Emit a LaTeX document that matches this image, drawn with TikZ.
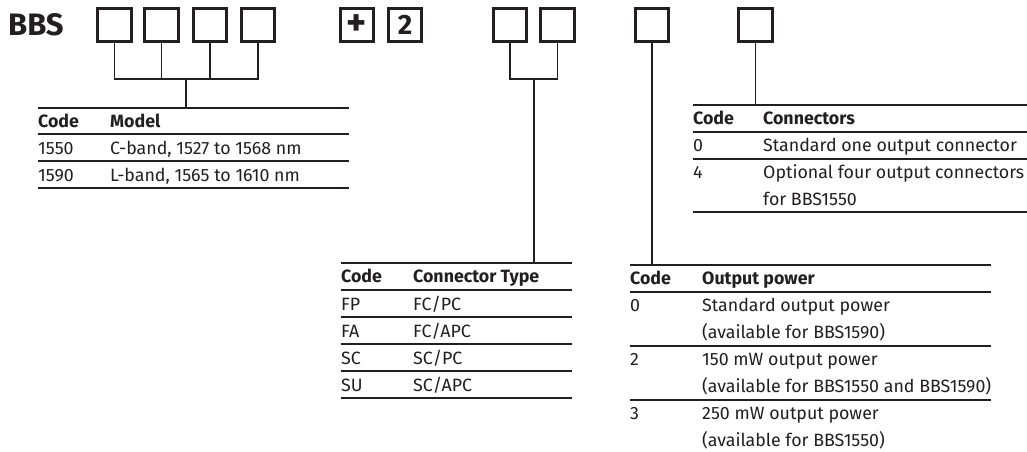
\documentclass[tikz,border=0pt]{standalone}
\usepackage{fontspec}
\setmainfont{Fira Sans}
\definecolor{ink}{HTML}{231F20}
\begin{document}
\begin{tikzpicture}[x=1pt,y=-1pt,
  digitbox/.style={draw=ink, line width=2.6pt, minimum width=33.5pt, minimum height=33.5pt, inner sep=0pt, text=ink, font=\bfseries\fontsize{28}{28}\selectfont},
  wire/.style={draw=ink, line width=1.2pt},
  rule/.style={draw=ink, line width=1.3pt},
  cell/.style={anchor=base west, inner sep=0pt, text=ink, font=\fontsize{17.8}{17.8}\selectfont},
  hcell/.style={cell, font=\bfseries\fontsize{17.8}{17.8}\selectfont}]
\useasboundingbox (0,0) rectangle (1027,451);
\fill[white] (0,0) rectangle (1027,451);
% title
\node[anchor=base west, inner sep=0pt, text=ink, font=\bfseries\fontsize{31}{31}\selectfont] (title) at (8,35) {BBS};
% code boxes
\node[digitbox] (b1) at (114.5,25) {};
\node[digitbox] (b2) at (161.5,25) {};
\node[digitbox] (b3) at (210,25) {};
\node[digitbox] (b4) at (258,25) {};
\node[digitbox, font=\bfseries\fontsize{38}{38}\selectfont] (bp) at (357,25) {+};
\node[digitbox] (bt) at (405,25) {2};
\node[digitbox] (b5) at (510,25) {};
\node[digitbox] (b6) at (557.5,25) {};
\node[digitbox] (b7) at (652,25) {};
\node[digitbox] (b8) at (755.5,25) {};
% junctions and table tops
\coordinate (j1) at (186,79);
\coordinate (j2) at (534,79);
\coordinate (mtop) at (186,108);
\coordinate (ctop) at (534,263);
\coordinate (otop) at (652,265);
\coordinate (ntop) at (755.5,105);
% connectors
\draw[wire] (b1.south) |- (b4.south |- j1) -- (b4.south);
\draw[wire] (b2.south) -- (b2.south |- j1);
\draw[wire] (b3.south) -- (b3.south |- j1);
\draw[wire] (j1) -- (mtop);
\draw[wire] (b5.south) |- (b6.south |- j2) -- (b6.south);
\draw[wire] (j2) -- (ctop);
\draw[wire] (b7.south) -- (otop);
\draw[wire] (b8.south) -- (ntop);
% Model table
\foreach \y in {108,134,161,188} \draw[rule] (38,\y) -- (349,\y);
\node[hcell] (mh1) at (38,127) {Code};
\node[hcell] (mh2) at (110,127) {Model};
\node[cell] (m11) at (38,154) {1550};
\node[cell] (m12) at (110,154) {C-band, 1527 to 1568 nm};
\node[cell] (m21) at (38,181) {1590};
\node[cell] (m22) at (110,181) {L-band, 1565 to 1610 nm};
% Connector type table
\foreach \y in {263,290,317,344,371,398} \draw[rule] (341,\y) -- (572,\y);
\node[hcell] (ch1) at (341,282) {Code};
\node[hcell] (ch2) at (413,282) {Connector Type};
\node[cell] (c11) at (341,310) {FP};
\node[cell] (c12) at (413,310) {FC/PC};
\node[cell] (c21) at (341,337) {FA};
\node[cell] (c22) at (413,337) {FC/APC};
\node[cell] (c31) at (341,364) {SC};
\node[cell] (c32) at (413,364) {SC/PC};
\node[cell] (c41) at (341,391) {SU};
\node[cell] (c42) at (413,391) {SC/APC};
% Output power table
\foreach \y in {265,292,346,400} \draw[rule] (630,\y) -- (991,\y);
\node[hcell] (oh1) at (630,284) {Code};
\node[hcell] (oh2) at (702,284) {Output power};
\node[cell] (o11) at (630,311) {0};
\node[cell] (o12) at (702,311) {Standard output power};
\node[cell] (o13) at (702,338) {(available for BBS1590)};
\node[cell] (o21) at (630,365) {2};
\node[cell] (o22) at (702,365) {150 mW output power};
\node[cell] (o23) at (702,392) {(available for BBS1550 and BBS1590)};
\node[cell] (o31) at (630,419) {3};
\node[cell] (o32) at (702,419) {250 mW output power};
\node[cell] (o33) at (702,446) {(available for BBS1550)};
% Connectors table
\foreach \y in {105,132,159,212} \draw[rule] (693,\y) -- (1027,\y);
\node[hcell] (nh1) at (693,124) {Code};
\node[hcell] (nh2) at (763,124) {Connectors};
\node[cell] (n11) at (693,151) {0};
\node[cell] (n12) at (763,151) {Standard one output connector};
\node[cell] (n21) at (693,178) {4};
\node[cell] (n22) at (763,178) {Optional four output connectors};
\node[cell] (n23) at (763,205) {for BBS1550};
\end{tikzpicture}
\end{document}
